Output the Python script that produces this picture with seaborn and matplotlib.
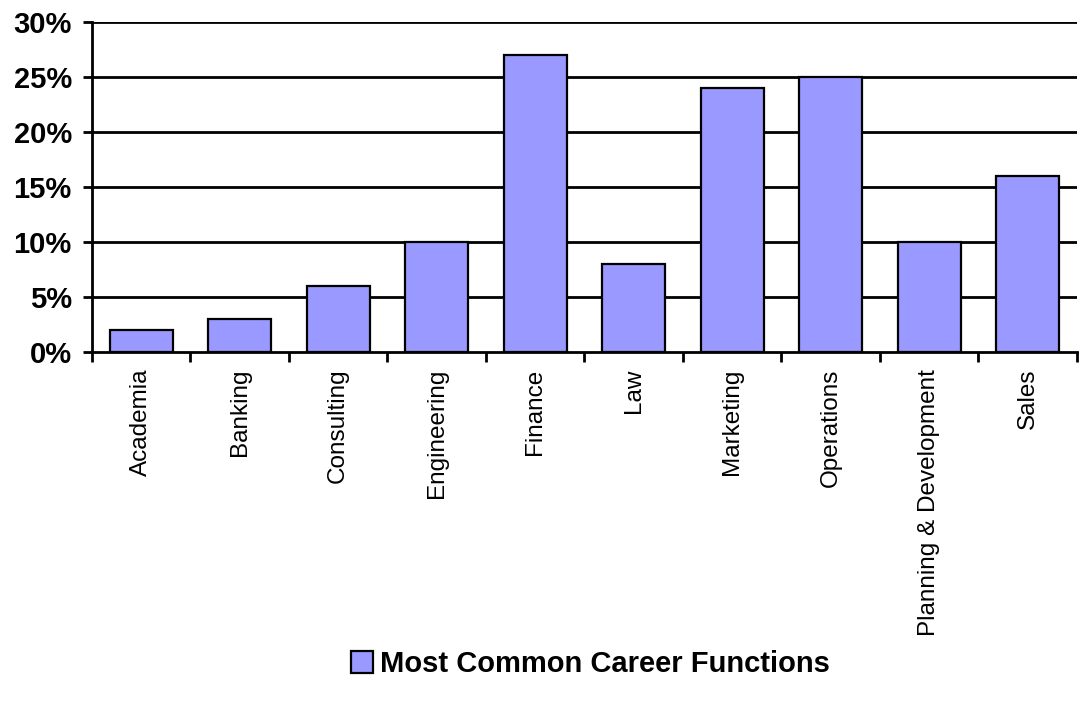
import matplotlib
matplotlib.use("Agg")
from matplotlib import pyplot as plt
from matplotlib.ticker import FixedLocator, PercentFormatter
import seaborn as sns

categories = ["Academia", "Banking", "Consulting", "Engineering", "Finance",
              "Law", "Marketing", "Operations", "Planning & Development", "Sales"]
shares = [2, 3, 6, 10, 27, 8, 24, 25, 10, 16]
series_name = "Most Common Career Functions"
y_ticks = [0, 5, 10, 15, 20, 25, 30]


def main():
    sns.set_style("white")
    plt.rcParams["font.family"] = ["Liberation Sans", "DejaVu Sans"]
    plt.rcParams["text.color"] = "black"
    plt.rcParams["xtick.color"] = "black"
    plt.rcParams["ytick.color"] = "black"

    fig = plt.figure(figsize=(10.9, 7.09), dpi=100)
    ax = fig.add_axes([0.0844, 0.5035, 0.9036, 0.4655])

    for y in y_ticks[1:]:
        ax.axhline(y, color="black", linewidth=2, zorder=0)

    sns.barplot(x=categories, y=shares, color="#9999FF", saturation=1,
                edgecolor="black", linewidth=1.6, width=0.64,
                label=series_name, ax=ax, zorder=2)

    ax.set_ylim(0, 30)
    ax.set_xlim(-0.5, len(categories) - 0.5)
    ax.set_yticks(y_ticks)
    ax.yaxis.set_major_formatter(PercentFormatter(decimals=0))
    for lab in ax.get_yticklabels():
        lab.set_fontweight("bold")
    ax.tick_params(axis="y", labelsize=21, length=6.5, width=2, direction="out",
                   left=True, pad=8)

    ax.tick_params(axis="x", which="major", length=0, labelsize=17.5,
                   labelrotation=90, pad=12)
    ax.xaxis.set_minor_locator(FixedLocator([i - 0.5 for i in range(len(categories) + 1)]))
    ax.tick_params(axis="x", which="minor", length=7, width=2, direction="out", bottom=True)

    for side in ["top", "right"]:
        ax.spines[side].set_visible(False)
    for side in ["left", "bottom"]:
        ax.spines[side].set_color("black")
        ax.spines[side].set_linewidth(2)
    ax.set_xlabel("")
    ax.set_ylabel("")
    ax.grid(False)

    handles, labels = ax.get_legend_handles_labels()
    if ax.get_legend() is not None:
        ax.get_legend().remove()
    fig.legend(handles, labels, loc="center", bbox_to_anchor=(0.542, 0.063),
               frameon=False, prop={"weight": "bold", "size": 21},
               handlelength=0.75, handleheight=0.75, handletextpad=0.25)

    fig.savefig("out.png", dpi=100)


if __name__ == "__main__":
    main()
